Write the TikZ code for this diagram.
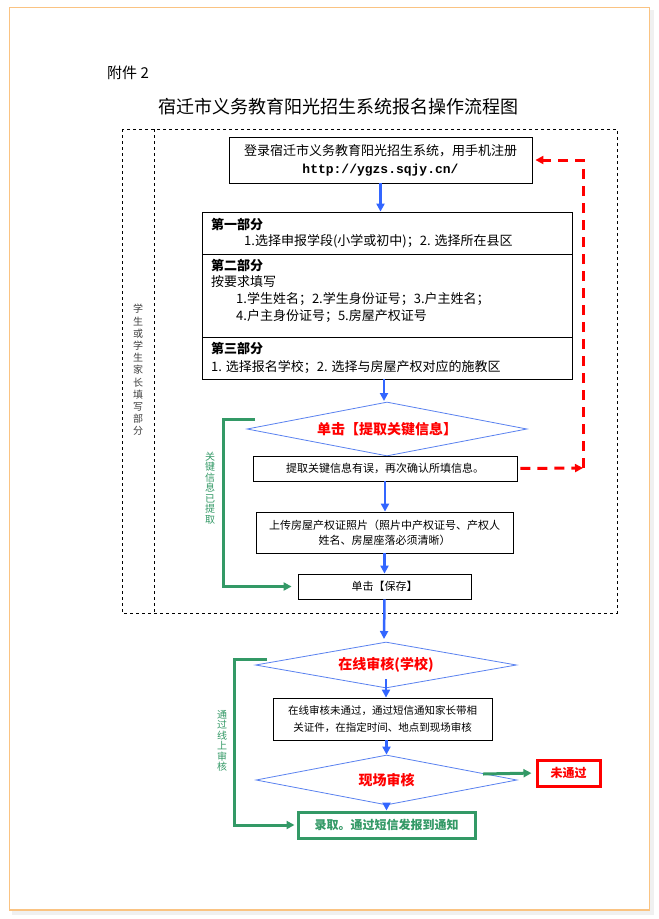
\documentclass[tikz,border=0pt]{standalone}
\usepackage{fontspec}
\setmainfont{Noto Sans CJK SC}
\newfontfamily\urlfont{Liberation Mono}
\usetikzlibrary{shapes.geometric,arrows.meta}

\definecolor{flowblue}{RGB}{51,102,255}
\definecolor{diablue}{RGB}{90,130,240}
\definecolor{okgreen}{RGB}{51,153,102}
\definecolor{pageedge}{RGB}{250,195,130}

\tikzset{
  box/.style={draw=black, line width=0.8pt, inner sep=0pt, align=center},
  dia/.style={diamond, aspect=5, draw=diablue, line width=0.8pt, inner sep=0pt,
    text=red, font=\fontsize{14}{16}\selectfont\bfseries},
  flow/.style={draw=flowblue, line width=2.5pt, -{Triangle[length=8pt,width=8pt]}},
  okflow/.style={draw=okgreen, line width=3pt, -{Triangle[length=8pt,width=8pt]}},
  backflow/.style={draw=red, line width=3pt, dash pattern=on 10pt off 7pt,
    -{Triangle[length=8pt,width=8pt]}},
  vtext/.style={align=center, inner sep=0pt, font=\fontsize{10}{10.5}\selectfont},
  parttext/.style={anchor=west, inner sep=0pt, font=\fontsize{13}{15}\selectfont}
}

\begin{document}
\begin{tikzpicture}[x=1pt,y=-1pt]
  \useasboundingbox (0,0) rectangle (659,919);
  % page
  \fill[black!6] (12,10) rectangle (654,915);
  \fill[white] (9.5,7.5) rectangle (649.5,910);
  \draw[pageedge, line width=1.2pt] (9.5,7.5) rectangle (649.5,910);

  % titles
  \node[anchor=west, inner sep=0pt, font=\fontsize{15}{17}\selectfont] (annex) at (107,73) {附件 2};
  \node[inner sep=0pt, font=\fontsize{18}{20}\selectfont] (title) at (338,107) {宿迁市义务教育阳光招生系统报名操作流程图};

  % area filled in by students or parents
  \draw[dashed, line width=0.8pt] (122,129) rectangle (617,613);
  \draw[dashed, line width=0.8pt] (154,129) -- (154,613);
  \node[vtext, text=black!75, font=\fontsize{10}{12.2}\selectfont] (side) at (138,370)
    {学\\生\\或\\学\\生\\家\\长\\填\\写\\部\\分};

  % login box
  \node[box, minimum width=303pt, minimum height=46pt, font=\fontsize{13}{18}\selectfont] (login) at (380.5,160)
    {登录宿迁市义务教育阳光招生系统，用手机注册\\{\urlfont\bfseries http://ygzs.sqjy.cn/}};

  % three parts
  \node[box, minimum width=370pt, minimum height=42pt] (part1) at (387,233) {};
  \node[box, minimum width=370pt, minimum height=83pt] (part2) at (387,295.5) {};
  \node[box, minimum width=370pt, minimum height=42pt] (part3) at (387,358) {};
  \node[parttext, font=\fontsize{13}{15}\selectfont\bfseries] (p1head) at (211,225) {第一部分};
  \node[parttext] (p1line) at (244,241) {1.选择申报学段(小学或初中)；2. 选择所在县区};
  \node[parttext, font=\fontsize{13}{15}\selectfont\bfseries] (p2head) at (211,266) {第二部分};
  \node[parttext] (p2line) at (211,282) {按要求填写};
  \node[parttext] (p2itemA) at (236,299) {1.学生姓名；2.学生身份证号；3.户主姓名；};
  \node[parttext] (p2itemB) at (236,316) {4.户主身份证号；5.房屋产权证号};
  \node[parttext, font=\fontsize{13}{15}\selectfont\bfseries] (p3head) at (211,349) {第三部分};
  \node[parttext] (p3line) at (211,367) {1. 选择报名学校；2. 选择与房屋产权对应的施教区};

  % key information
  \node[dia, minimum width=280pt, minimum height=54pt] (extract) at (387,429) {单击【提取关键信息】};
  \node[box, minimum width=264pt, minimum height=25pt, font=\fontsize{11}{13}\selectfont] (recheck) at (385,468.5)
    {提取关键信息有误，再次确认所填信息。};
  \node[box, minimum width=257pt, minimum height=41pt, font=\fontsize{11}{15}\selectfont] (upload) at (384.5,532.5)
    {上传房屋产权证照片（照片中产权证号、产权人\\姓名、房屋座落必须清晰）};
  \node[box, minimum width=173pt, minimum height=25pt, font=\fontsize{11}{13}\selectfont] (save) at (384.5,586.5)
    {单击【保存】};

  % review
  \node[dia, minimum width=261pt, minimum height=46pt] (online) at (386,665) {在线审核(学校)};
  \node[box, minimum width=219pt, minimum height=42pt, font=\fontsize{10.5}{17}\selectfont] (notify) at (382.5,719)
    {在线审核未通过，通过短信通知家长带相\\关证件，在指定时间、地点到现场审核};
  \node[dia, minimum width=261pt, minimum height=50pt] (onsite) at (386.5,780) {现场审核};
  \node[draw=red, line width=3pt, minimum width=63pt, minimum height=26pt, inner sep=0pt,
    text=red, font=\fontsize{12}{14}\selectfont\bfseries] (fail) at (568.5,773) {未通过};
  \node[draw=okgreen, line width=3pt, minimum width=177pt, minimum height=26pt, inner sep=0pt,
    text=okgreen, font=\fontsize{12}{14}\selectfont\bfseries] (admit) at (386.5,825) {录取。通过短信发报到通知};

  % blue flow
  \draw[flow] (login.south) -- (login.south |- part1.north);
  \draw[flow] (384,379) -- (384,401);
  \draw[flow] (recheck.south) -- (recheck.south |- upload.north);
  \draw[flow] (upload.south) -- (upload.south |- save.north);
  \draw[flow] (save.south) -- (384,639);
  \draw[flow] ([yshift=-14pt]online.center) -- (online.center |- notify.north);
  \draw[flow] (notify.south -| onsite.center) -- (onsite.north);
  \draw[flow] (onsite.south) -- (admit.north);

  % green flow
  \coordinate (keyA) at (255,419);
  \coordinate (keyB) at (223,419);
  \draw[okflow, shorten >=6pt] (keyA) -- (keyB) |- (save.west);
  \node[vtext, text=okgreen] (keylabel) at (210,488) {关\\键\\信\\息\\已\\提\\取};

  \coordinate (passA) at (267,659);
  \coordinate (passB) at (234,659);
  \draw[okflow, shorten >=2pt] (passA) -- (passB) |- (admit.west);
  \node[vtext, text=okgreen] (passlabel) at (222,741) {通\\过\\线\\上\\审\\核};

  \coordinate (failA) at (483,774);
  \draw[okflow, shorten >=4pt] (failA) -- (fail.west);

  % red dashed way back
  \coordinate (back) at (583,468);
  \draw[backflow, shorten <=3pt] (recheck.east) -- (back);
  \draw[backflow, shorten >=3pt] (back) |- (login.east);
\end{tikzpicture}
\end{document}
